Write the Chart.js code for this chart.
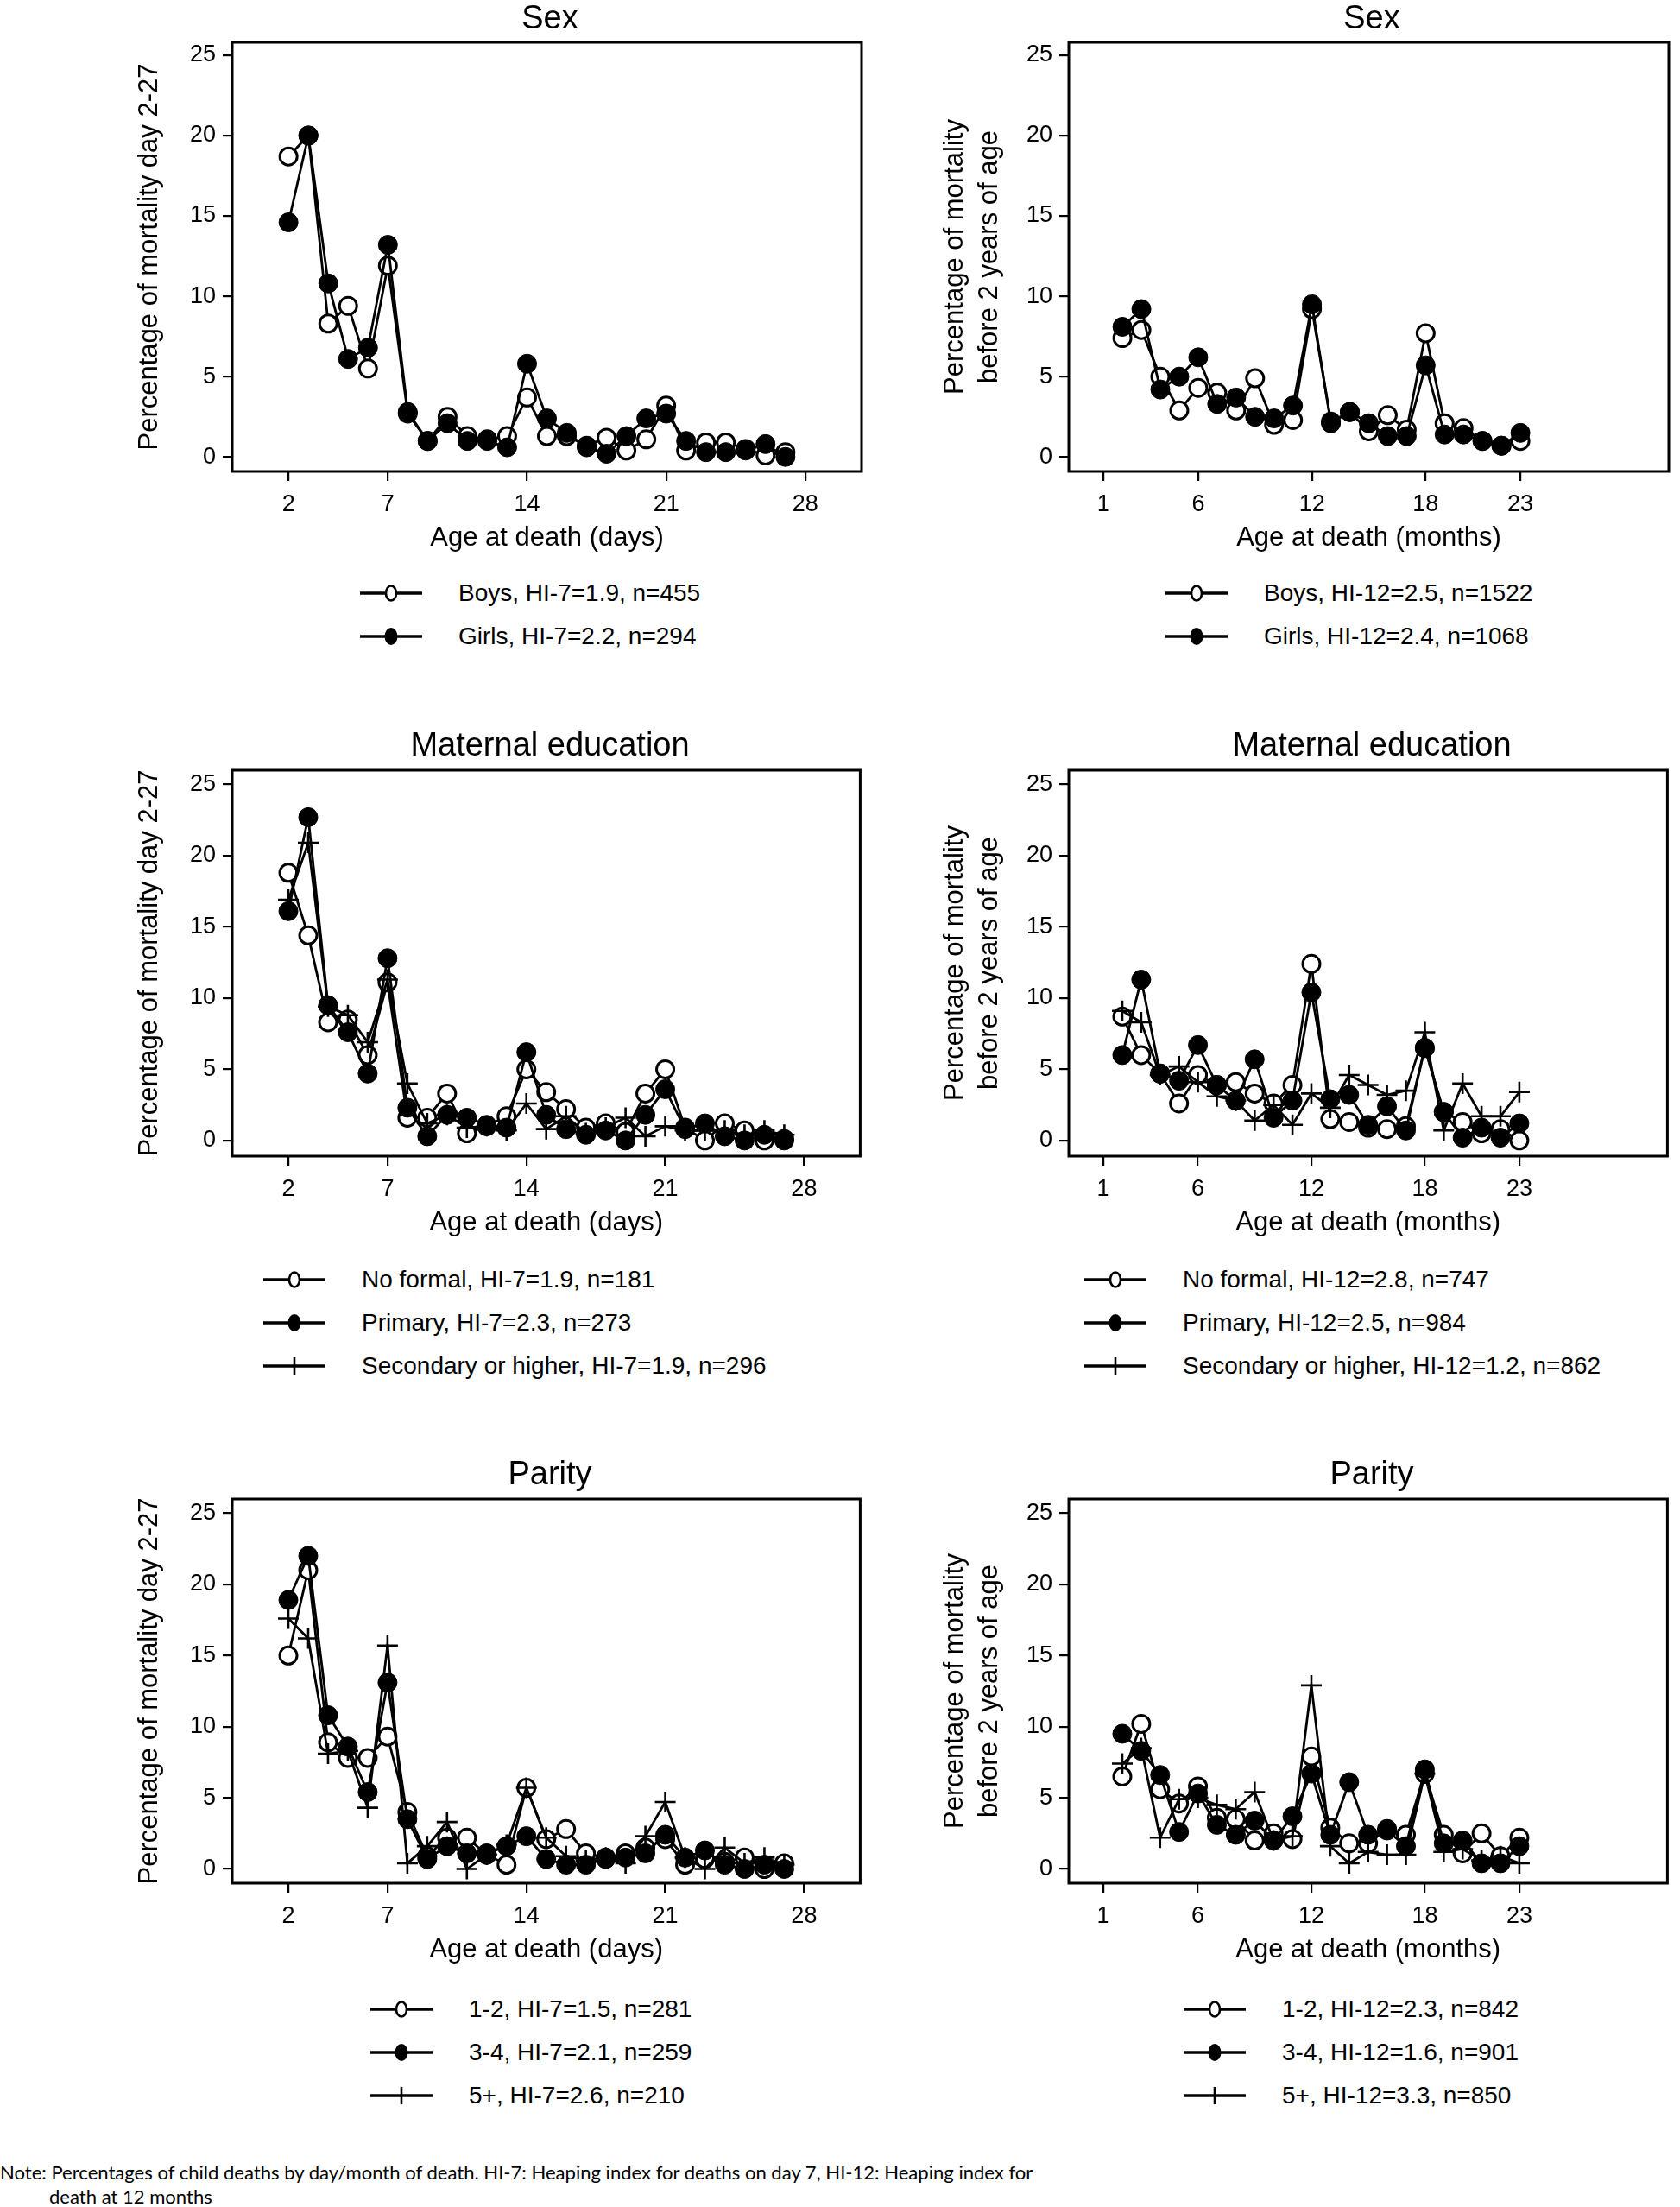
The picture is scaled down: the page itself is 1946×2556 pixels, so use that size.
<!DOCTYPE html>
<html>
<head>
<meta charset="utf-8">
<script src="https://cdn.jsdelivr.net/npm/chart.js@4.4.1/dist/chart.umd.min.js"></script>
<style>
  body { margin: 0; background: #fff; width: 1946px; height: 2556px; position: relative; overflow: hidden;
         font-family: "Liberation Sans", Arial, sans-serif; color: #000; }
  canvas { position: absolute; }
  .ttl { position: absolute; font-size: 38px; transform: translate(-50%, -50%); white-space: nowrap; }
  .row { position: absolute; display: flex; align-items: center; transform: translateY(-50%);
         font-size: 28px; white-space: nowrap; }
  .row svg { margin-right: 42px; }
  .note { position: absolute; font-family: Lato, "Open Sans", sans-serif; font-size: 21px; white-space: nowrap; }
</style>
</head>
<body>
<script>
// categories and ticks
const dayCats = [2, 3, 4, 5, 6, 7, 8, 9, 10, 11, 12, 13, 14, 15, 16, 17, 18, 19, 20, 21, 22, 23, 24, 25, 26, 27]
const monthCats = [2, 3, 4, 5, 6, 7, 8, 9, 10, 11, 12, 13, 14, 15, 16, 17, 18, 19, 20, 21, 22, 23]
const dayTicks = [2, 7, 14, 21, 28]
const monthTicks = [1, 6, 12, 18, 23]
const yTicks = [0, 5, 10, 15, 20, 25]

// Sex
const sexDaysBoys = [18.7, 20.0, 8.3, 9.4, 5.5, 11.9, 2.7, 1.0, 2.5, 1.3, 1.1, 1.3, 3.7, 1.3, 1.3, 0.7, 1.2, 0.4, 1.1, 3.2, 0.4, 0.9, 0.9, 0.5, 0.1, 0.3]
const sexDaysGirls = [14.6, 20.0, 10.8, 6.1, 6.8, 13.2, 2.8, 1.0, 2.1, 1.0, 1.0, 0.6, 5.8, 2.4, 1.5, 0.6, 0.2, 1.3, 2.4, 2.7, 1.0, 0.3, 0.3, 0.4, 0.8, 0.0]
const sexMonthsBoys = [7.4, 7.9, 5.0, 2.9, 4.3, 4.0, 2.9, 4.9, 2.0, 2.3, 9.2, 2.2, 2.8, 1.6, 2.6, 1.7, 7.7, 2.1, 1.8, 1.0, 0.7, 1.0]
const sexMonthsGirls = [8.1, 9.2, 4.2, 5.0, 6.2, 3.3, 3.7, 2.5, 2.4, 3.2, 9.5, 2.1, 2.8, 2.1, 1.3, 1.3, 5.7, 1.4, 1.4, 1.0, 0.7, 1.5]

// Maternal education
const eduDaysNone = [18.8, 14.4, 8.3, 8.5, 6.0, 11.1, 1.6, 1.6, 3.3, 0.5, 1.0, 1.7, 5.0, 3.4, 2.2, 0.9, 1.2, 0.6, 3.3, 5.0, 0.9, 0.0, 1.2, 0.7, 0.0, 0.1]
const eduDaysPrimary = [16.1, 22.7, 9.5, 7.6, 4.7, 12.8, 2.3, 0.3, 1.8, 1.6, 1.1, 0.9, 6.2, 1.8, 0.8, 0.4, 0.7, 0.0, 1.8, 3.6, 0.8, 1.2, 0.3, 0.0, 0.4, 0.0]
const eduDaysSecondary = [16.9, 20.9, 9.4, 8.8, 6.9, 11.3, 4.0, 1.2, 1.8, 0.9, 1.0, 0.7, 2.6, 0.8, 1.7, 0.5, 0.9, 1.6, 0.3, 1.0, 0.7, 0.7, 0.7, 0.4, 0.7, 0.4]
const eduMonthsNone = [8.7, 6.0, 4.7, 2.6, 4.6, 3.9, 4.1, 3.3, 2.6, 3.9, 12.4, 1.5, 1.3, 0.9, 0.8, 1.0, 6.5, 2.0, 1.3, 0.5, 0.8, 0.0]
const eduMonthsPrimary = [6.0, 11.3, 4.7, 4.2, 6.7, 3.9, 2.8, 5.7, 1.6, 2.8, 10.4, 2.9, 3.2, 1.1, 2.4, 0.7, 6.5, 2.0, 0.2, 0.9, 0.2, 1.2]
const eduMonthsSecondary = [9.1, 8.3, 4.6, 5.2, 4.1, 3.1, 2.8, 1.4, 2.5, 1.1, 3.3, 2.3, 4.6, 3.9, 3.2, 3.5, 7.6, 0.7, 4.0, 1.7, 1.7, 3.4]

// Parity
const parDays12 = [15.0, 21.0, 8.9, 7.8, 7.8, 9.3, 4.0, 0.9, 2.2, 2.2, 1.0, 0.3, 5.7, 2.1, 2.8, 1.1, 0.8, 1.1, 1.5, 2.1, 0.3, 0.7, 0.5, 0.8, 0.0, 0.4]
const parDays34 = [18.9, 22.0, 10.8, 8.6, 5.4, 13.1, 3.5, 0.7, 1.6, 1.1, 1.1, 1.6, 2.3, 0.7, 0.3, 0.3, 0.7, 0.8, 1.1, 2.4, 0.8, 1.3, 0.3, 0.0, 0.3, 0.0]
const parDays5 = [17.6, 16.2, 8.1, 8.3, 4.3, 15.7, 0.4, 1.6, 3.3, 0.0, 1.0, 1.7, 5.7, 2.2, 0.9, 0.6, 0.8, 0.4, 2.3, 4.7, 0.8, 0.0, 1.5, 0.4, 0.8, 0.3]
const parMonths12 = [6.5, 10.2, 5.6, 4.6, 5.8, 3.6, 3.5, 2.0, 2.5, 2.1, 7.9, 2.9, 1.8, 1.8, 2.8, 2.4, 6.7, 2.4, 1.1, 2.5, 0.9, 2.2]
const parMonths34 = [9.5, 8.3, 6.6, 2.6, 5.3, 3.1, 2.4, 3.4, 2.0, 3.7, 6.7, 2.4, 6.1, 2.4, 2.7, 1.6, 7.0, 1.8, 2.0, 0.4, 0.4, 1.6]
const parMonths5 = [7.4, 8.5, 2.2, 4.9, 5.0, 4.5, 4.2, 5.4, 2.0, 2.3, 12.9, 1.6, 0.4, 1.2, 1.0, 1.0, 6.7, 1.2, 1.4, 0.6, 0.9, 0.4]

// legend labels
const sexDaysLabels = ["Boys, HI-7=1.9, n=455", "Girls, HI-7=2.2, n=294"]
const sexMonthsLabels = ["Boys, HI-12=2.5, n=1522", "Girls, HI-12=2.4, n=1068"]
const eduDaysLabels = ["No formal, HI-7=1.9, n=181", "Primary, HI-7=2.3, n=273", "Secondary or higher, HI-7=1.9, n=296"]
const eduMonthsLabels = ["No formal, HI-12=2.8, n=747", "Primary, HI-12=2.5, n=984", "Secondary or higher, HI-12=1.2, n=862"]
const parDaysLabels = ["1-2, HI-7=1.5, n=281", "3-4, HI-7=2.1, n=259", "5+, HI-7=2.6, n=210"]
const parMonthsLabels = ["1-2, HI-12=2.3, n=842", "3-4, HI-12=1.6, n=901", "5+, HI-12=3.3, n=850"]

const markers = ["open", "filled", "plus"]
const dayAxisTitle = "Age at death (days)"
const monthAxisTitle = "Age at death (months)"
const dayYTitle = "Percentage of mortality day 2-27"
const monthYTitle = ["Percentage of mortality", "before 2 years of age"]

// layout (pixels)
const cols = {
  days: { canvasLeft: 120, boxLeft: 269, boxRight: 1005, yPad: 33, xRange: [-0.83, 30.83] },
  months: { canvasLeft: 1060, boxLeft: 1238, boxRight: 1940, yPad: 26, xRange: [-0.83, 30.83] }
}
const rows = [
  { title: "Sex", titleY: 20, boxTop: 49, boxBottom: 546, yRange: [-0.9, 25.8], legendY: [687, 737] },
  { title: "Maternal education", titleY: 862, boxTop: 892, boxBottom: 1339, yRange: [-1.1, 26.0], legendY: [1482, 1532, 1582] },
  { title: "Parity", titleY: 1706, boxTop: 1736, boxBottom: 2181, yRange: [-1.0, 26.0], legendY: [2327, 2377, 2427] }
]

const panels = [
  { row: 0, col: "days", series: [sexDaysBoys, sexDaysGirls], labels: sexDaysLabels, legendX: 417 },
  { row: 0, col: "months", series: [sexMonthsBoys, sexMonthsGirls], labels: sexMonthsLabels, legendX: 1350 },
  { row: 1, col: "days", series: [eduDaysNone, eduDaysPrimary, eduDaysSecondary], labels: eduDaysLabels, legendX: 305 },
  { row: 1, col: "months", series: [eduMonthsNone, eduMonthsPrimary, eduMonthsSecondary], labels: eduMonthsLabels, legendX: 1256 },
  { row: 2, col: "days", series: [parDays12, parDays34, parDays5], labels: parDaysLabels, legendX: 429 },
  { row: 2, col: "months", series: [parMonths12, parMonths34, parMonths5], labels: parMonthsLabels, legendX: 1371 }
]

Chart.defaults.font.family = '"Liberation Sans", Arial, sans-serif'
Chart.defaults.color = "#000"

const frame = {
  id: "frame",
  afterDatasetsDraw(c) {
    const { ctx, chartArea: a } = c
    ctx.save()
    ctx.strokeStyle = "#000"
    ctx.lineWidth = 3
    ctx.strokeRect(a.left, a.top, a.right - a.left, a.bottom - a.top)
    ctx.restore()
  }
}

const TOP_PAD = 30, RIGHT_PAD = 6, X_AXIS_H = 110

const markerStyle = (m) => {
  if (m === "open") return { pointStyle: "circle", pointRadius: 10, pointBackgroundColor: "#fff", pointBorderWidth: 3 }
  if (m === "filled") return { pointStyle: "circle", pointRadius: 11, pointBackgroundColor: "#000", pointBorderWidth: 1 }
  return { pointStyle: "cross", pointRadius: 12, pointBackgroundColor: "#000", pointBorderWidth: 2.6 }
}

const keySvg = (m) => {
  let mk = ""
  if (m === "open") mk = '<ellipse cx="36" cy="15" rx="6" ry="8.5" fill="#fff" stroke="#000" stroke-width="2.6"/>'
  else if (m === "filled") mk = '<ellipse cx="36" cy="15" rx="7.5" ry="10" fill="#000"/>'
  else mk = '<line x1="36" y1="5" x2="36" y2="25" stroke="#000" stroke-width="2.6"/>'
  return '<svg width="72" height="30"><line x1="0" y1="15" x2="72" y2="15" stroke="#000" stroke-width="3.5"/>' + mk + "</svg>"
}

panels.forEach((p) => {
  const r = rows[p.row]
  const c = cols[p.col]
  const isDays = p.col === "days"
  const cats = isDays ? dayCats : monthCats

  const left = c.canvasLeft
  const top = r.boxTop - TOP_PAD
  const w = c.boxRight + RIGHT_PAD - left
  const h = r.boxBottom + X_AXIS_H - top

  const canvas = document.createElement("canvas")
  canvas.width = w
  canvas.height = h
  canvas.style.left = left + "px"
  canvas.style.top = top + "px"
  canvas.style.width = w + "px"
  canvas.style.height = h + "px"
  document.body.appendChild(canvas)

  const n = p.series.length
  const datasets = p.series.map((vals, i) => Object.assign({
    data: vals.map((v, k) => ({ x: cats[k], y: v })),
    borderColor: "#000",
    borderWidth: 2.8,
    pointBorderColor: "#000",
    fill: false,
    tension: 0,
    order: n - i
  }, markerStyle(markers[i])))

  new Chart(canvas, {
    type: "line",
    data: { datasets },
    options: {
      responsive: false,
      animation: false,
      events: [],
      devicePixelRatio: 1,
      layout: { padding: { left: 0, top: TOP_PAD, right: RIGHT_PAD, bottom: 0 } },
      plugins: { legend: { display: false }, title: { display: false }, tooltip: { enabled: false } },
      scales: {
        x: {
          type: "linear",
          min: c.xRange[0],
          max: c.xRange[1],
          afterBuildTicks: (s) => { s.ticks = (isDays ? dayTicks : monthTicks).map(v => ({ value: v })) },
          afterFit: (s) => { s.height = X_AXIS_H },
          border: { display: false },
          grid: { drawOnChartArea: false, drawTicks: true, tickLength: 11, color: "#000", lineWidth: 2.2 },
          ticks: { padding: 11, font: { size: 27 }, maxRotation: 0, autoSkip: false, color: "#000" },
          title: { display: true, text: isDays ? dayAxisTitle : monthAxisTitle, color: "#000",
                   font: { size: 31, lineHeight: 1.3 }, padding: { top: 0, bottom: 12 } }
        },
        y: {
          type: "linear",
          min: r.yRange[0],
          max: r.yRange[1],
          afterBuildTicks: (s) => { s.ticks = yTicks.map(v => ({ value: v })) },
          afterFit: (s) => { s.width = c.boxLeft - c.canvasLeft },
          border: { display: false },
          grid: { drawOnChartArea: false, drawTicks: true, tickLength: 11, color: "#000", lineWidth: 2.2 },
          ticks: { padding: 8, font: { size: 27 }, color: "#000" },
          title: { display: true, text: isDays ? dayYTitle : monthYTitle, color: "#000",
                   font: { size: 31, lineHeight: 1.3 }, padding: { top: c.yPad, bottom: 0 } }
        }
      }
    },
    plugins: [frame]
  })

  // panel title
  const t = document.createElement("div")
  t.className = "ttl"
  t.textContent = r.title
  t.style.left = ((c.boxLeft + c.boxRight) / 2) + "px"
  t.style.top = r.titleY + "px"
  document.body.appendChild(t)

  // legend
  p.labels.forEach((lab, i) => {
    const row = document.createElement("div")
    row.className = "row"
    row.style.left = p.legendX + "px"
    row.style.top = r.legendY[i] + "px"
    row.innerHTML = keySvg(markers[i]) + "<span></span>"
    row.querySelector("span").textContent = lab
    document.body.appendChild(row)
  })
})

// note
const note1 = document.createElement("div")
note1.className = "note"
note1.textContent = "Note: Percentages of child deaths by day/month of death. HI-7: Heaping index for deaths on day 7, HI-12: Heaping index for"
note1.style.left = "0px"
note1.style.top = "2502px"
document.body.appendChild(note1)
const fs = 21 * 1198 / note1.offsetWidth
note1.style.fontSize = fs + "px"
const note2 = document.createElement("div")
note2.className = "note"
note2.textContent = "death at 12 months"
note2.style.left = "57px"
note2.style.top = "2530px"
note2.style.fontSize = fs + "px"
document.body.appendChild(note2)
</script>
</body>
</html>
